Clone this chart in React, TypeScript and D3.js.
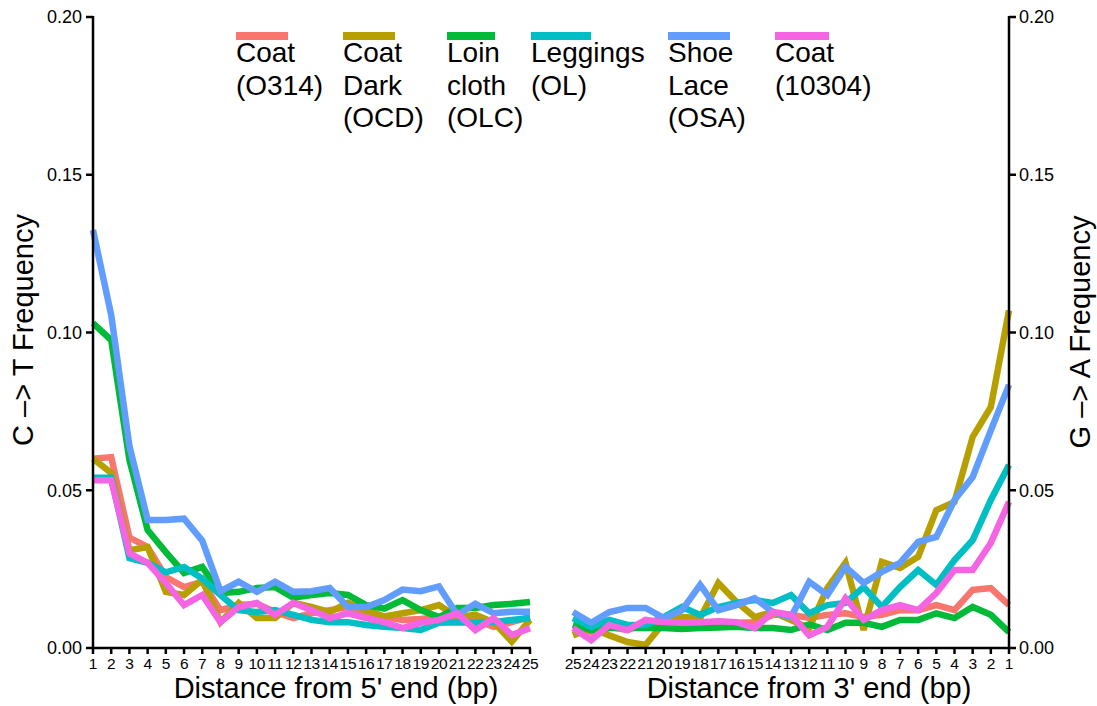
import React from 'react'
import * as d3 from 'd3'

// positions (bp from each end)
const leftPos = d3.range(1, 26)
const rightPos = d3.range(25, 0, -1)

const seriesNames = ['Coat (O314)', 'Coat Dark (OCD)', 'Loin cloth (OLC)', 'Leggings (OL)', 'Shoe Lace (OSA)', 'Coat (10304)']
const legendLines = [['Coat', '(O314)'], ['Coat', 'Dark', '(OCD)'], ['Loin', 'cloth', '(OLC)'], ['Leggings', '(OL)'], ['Shoe', 'Lace', '(OSA)'], ['Coat', '(10304)']]
const colors = ['#F8766D', '#B79F00', '#00BA38', '#00BFC4', '#619CFF', '#F564E3']

// C -> T, position 1..25 from 5' end
const ctO314 = [0.060, 0.0605, 0.035, 0.032, 0.0225, 0.0193, 0.021, 0.012, 0.0136, 0.014, 0.0114, 0.0095, 0.011, 0.012, 0.013, 0.0105, 0.0098, 0.0089, 0.0092, 0.0098, 0.0092, 0.0089, 0.0067, 0.0082, 0.0098]
const ctOCD = [0.060, 0.0555, 0.031, 0.032, 0.0178, 0.0168, 0.0216, 0.0082, 0.0143, 0.0095, 0.0095, 0.0143, 0.013, 0.0114, 0.0143, 0.012, 0.010, 0.011, 0.012, 0.0136, 0.0098, 0.0105, 0.0082, 0.002, 0.0089]
const ctOLC = [0.103, 0.0976, 0.0596, 0.0374, 0.0304, 0.0238, 0.0257, 0.0174, 0.0178, 0.019, 0.0193, 0.016, 0.0168, 0.0174, 0.0168, 0.0136, 0.0125, 0.0152, 0.012, 0.0098, 0.0127, 0.0127, 0.0136, 0.014, 0.0146]
const ctOL = [0.054, 0.054, 0.0285, 0.027, 0.024, 0.0257, 0.022, 0.0168, 0.012, 0.0114, 0.012, 0.0105, 0.0089, 0.0082, 0.0082, 0.0073, 0.0067, 0.0063, 0.0057, 0.008, 0.0082, 0.008, 0.0082, 0.0089, 0.0095]
const ctOSA = [0.1325, 0.1055, 0.064, 0.0406, 0.0406, 0.041, 0.034, 0.018, 0.021, 0.0178, 0.021, 0.0178, 0.018, 0.019, 0.013, 0.013, 0.0152, 0.0185, 0.018, 0.0195, 0.0105, 0.014, 0.011, 0.0115, 0.0115]
const ct10304 = [0.0532, 0.0532, 0.030, 0.027, 0.0206, 0.0136, 0.0168, 0.0082, 0.013, 0.0143, 0.0105, 0.0143, 0.012, 0.0095, 0.011, 0.0095, 0.0082, 0.0063, 0.008, 0.0089, 0.011, 0.0057, 0.0095, 0.0041, 0.0063]

// G -> A, position 25..1 from 3' end
const gaO314 = [0.0073, 0.005, 0.0067, 0.0057, 0.008, 0.008, 0.0073, 0.0073, 0.008, 0.008, 0.0082, 0.0105, 0.0105, 0.0095, 0.0105, 0.011, 0.0098, 0.0105, 0.012, 0.012, 0.0136, 0.012, 0.0184, 0.019, 0.0136]
const gaOCD = [0.004, 0.0063, 0.004, 0.0019, 0.001, 0.008, 0.0098, 0.0095, 0.0206, 0.0146, 0.0098, 0.0114, 0.0089, 0.0063, 0.019, 0.027, 0.0057, 0.0273, 0.0254, 0.0289, 0.0437, 0.0463, 0.0669, 0.0764, 0.107]
const gaOLC = [0.0073, 0.0057, 0.0063, 0.0063, 0.0063, 0.0063, 0.006, 0.0063, 0.0065, 0.0067, 0.0063, 0.0063, 0.0057, 0.0075, 0.0057, 0.008, 0.008, 0.0067, 0.0089, 0.0089, 0.011, 0.0095, 0.013, 0.0105, 0.005]
const gaOL = [0.0095, 0.0067, 0.0089, 0.0073, 0.0073, 0.0098, 0.013, 0.0105, 0.013, 0.0143, 0.0152, 0.0143, 0.0168, 0.011, 0.0136, 0.0143, 0.0193, 0.013, 0.0193, 0.0247, 0.020, 0.0279, 0.0342, 0.0469, 0.058]
const gaOSA = [0.0114, 0.008, 0.0114, 0.0127, 0.0127, 0.0095, 0.012, 0.020, 0.012, 0.0136, 0.0158, 0.0114, 0.0098, 0.021, 0.0168, 0.0257, 0.0206, 0.0241, 0.027, 0.0336, 0.0352, 0.0469, 0.0542, 0.069, 0.0834]
const ga10304 = [0.0063, 0.0025, 0.0073, 0.0057, 0.0089, 0.0082, 0.008, 0.0082, 0.0085, 0.0082, 0.0063, 0.0114, 0.0105, 0.004, 0.0067, 0.0158, 0.0089, 0.012, 0.0136, 0.012, 0.0174, 0.0247, 0.0247, 0.0333, 0.0463]

const yTicks = [0, 0.05, 0.1, 0.15, 0.2]

const W = 1097
const H = 706
const FONT = '"Liberation Sans", Arial, sans-serif'

export default function App() {
  const top = 17, bottom = 648
  const y = d3.scaleLinear().domain([0, 0.2]).range([bottom, top])
  const xl = d3.scalePoint<number>().domain(leftPos).range([93, 530])
  const xr = d3.scalePoint<number>().domain(rightPos).range([573, 1009])

  const ctSeries = [ctO314, ctOCD, ctOLC, ctOL, ctOSA, ct10304]
  const gaSeries = [gaO314, gaOCD, gaOLC, gaOL, gaOSA, ga10304]

  const lineL = d3.line<number>().x((_, i) => xl(leftPos[i])!).y(d => y(d))
  const lineR = d3.line<number>().x((_, i) => xr(rightPos[i])!).y(d => y(d))

  // legend placement
  const legendX = [236, 343, 447, 531, 668, 775]
  const keyW = [52, 52, 48, 60, 62, 54]
  const fmt = d3.format('.2f')

  return (
    <svg width={W} height={H} style={{ position: 'absolute', left: 0, top: 0, background: '#fff' }} fontFamily={FONT}>
      {/* lines */}
      <g fill="none" strokeWidth={6.5} strokeLinejoin="miter" strokeMiterlimit={3}>
        {ctSeries.map((s, i) => (
          <path key={'l' + i} d={lineL(s)!} stroke={colors[i]} />
        ))}
        {gaSeries.map((s, i) => (
          <path key={'r' + i} d={lineR(s)!} stroke={colors[i]} />
        ))}
      </g>

      {/* axes */}
      <g stroke="#000" strokeWidth={2.5}>
        <line x1={93} x2={93} y1={top - 1} y2={bottom + 1} />
        {yTicks.map(t => (
          <line key={t} x1={86} x2={93} y1={y(t)} y2={y(t)} />
        ))}
        <line x1={1009} x2={1009} y1={top - 1} y2={bottom + 1} />
        {yTicks.map(t => (
          <line key={'r' + t} x1={1009} x2={1016} y1={y(t)} y2={y(t)} />
        ))}
        <line x1={92} x2={531} y1={bottom} y2={bottom} />
        {leftPos.map(p => (
          <line key={'xl' + p} x1={xl(p)} x2={xl(p)} y1={bottom} y2={bottom + 6} />
        ))}
        <line x1={572} x2={1010} y1={bottom} y2={bottom} />
        {rightPos.map(p => (
          <line key={'xr' + p} x1={xr(p)} x2={xr(p)} y1={bottom} y2={bottom + 6} />
        ))}
      </g>

      <g fontSize={18} fill="#000">
        {yTicks.map(t => (
          <text key={t} x={82} y={y(t)} dy="0.36em" textAnchor="end">{fmt(t)}</text>
        ))}
        {yTicks.map(t => (
          <text key={'r' + t} x={1019} y={y(t)} dy="0.36em" textAnchor="start">{fmt(t)}</text>
        ))}
      </g>

      <g fontSize={15.5} fill="#000" textAnchor="middle" letterSpacing={-0.3}>
        {leftPos.map(p => (
          <text key={p} x={xl(p)} y={669}>{p}</text>
        ))}
        {rightPos.map(p => (
          <text key={p} x={xr(p)} y={669}>{p}</text>
        ))}
      </g>

      {/* axis titles */}
      <g fontSize={29} fill="#000" textAnchor="middle">
        <text x={336} y={698}>Distance from 5' end (bp)</text>
        <text x={809} y={698}>Distance from 3' end (bp)</text>
        <text transform={`translate(33,330) rotate(-90)`}>C –&gt; T Frequency</text>
        <text transform={`translate(1090,332) rotate(-90)`}>G –&gt; A Frequency</text>
      </g>

      {/* legend */}
      <g>
        {seriesNames.map((n, i) => (
          <g key={n} transform={`translate(${legendX[i]},0)`}>
            <line x1={0} x2={keyW[i]} y1={36} y2={36} stroke={colors[i]} strokeWidth={8} />
            <text fontSize={28} fill="#000">
              {legendLines[i].map((t, j) => (
                <tspan key={j} x={0} y={62 + j * 32.5}>{t}</tspan>
              ))}
            </text>
          </g>
        ))}
      </g>
    </svg>
  )
}
